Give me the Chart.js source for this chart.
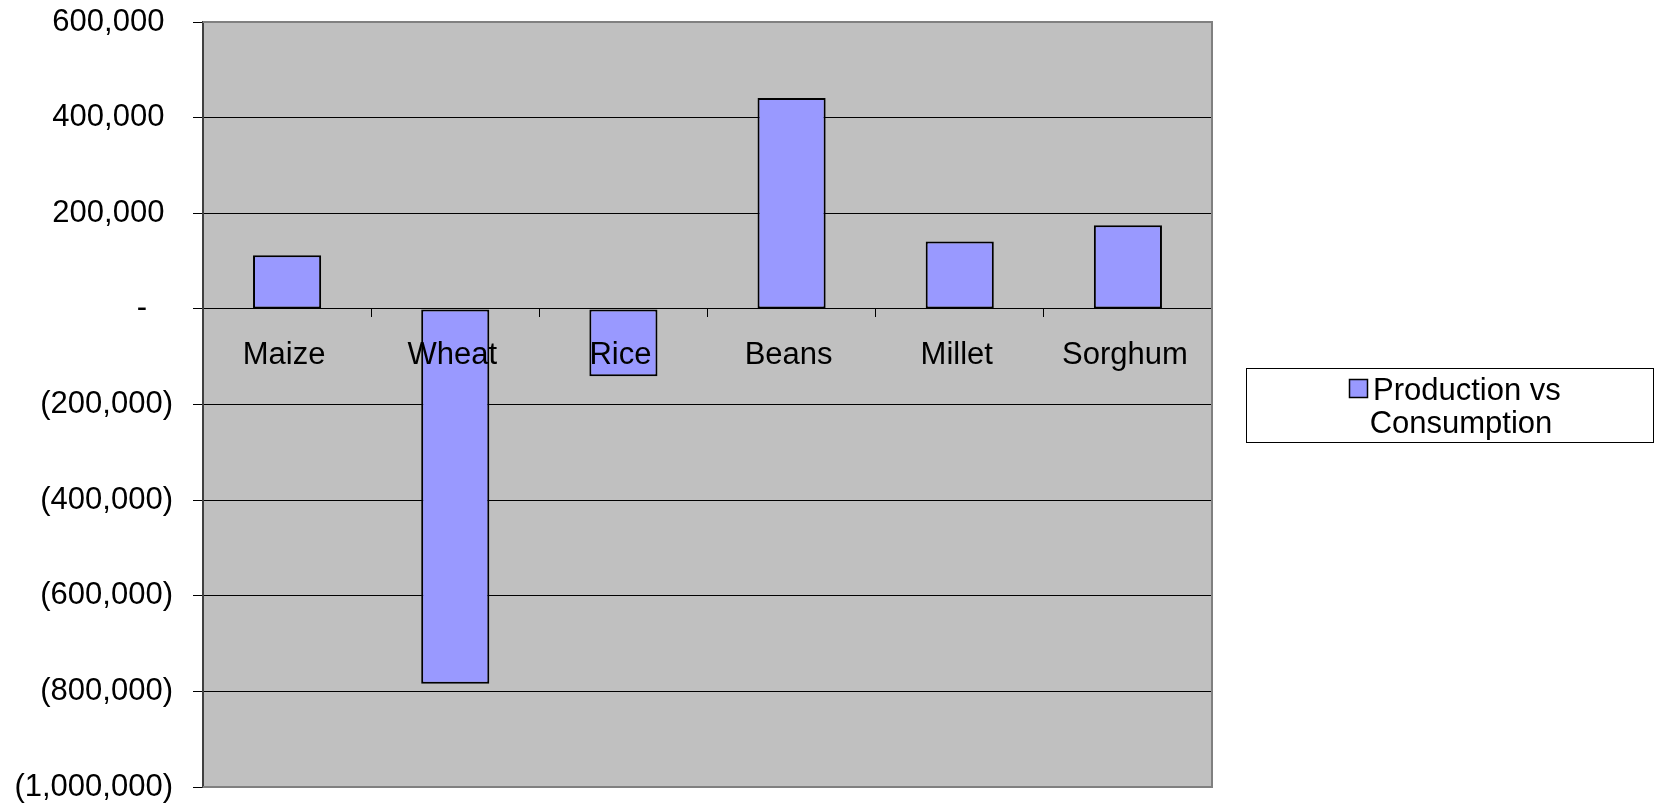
<!DOCTYPE html>
<html>
<head>
<meta charset="utf-8">
<script src="https://cdn.jsdelivr.net/npm/chart.js@4.4.1/dist/chart.umd.min.js"></script>
<style>
    html, body { margin: 0; padding: 0; background: #fff; }
    #wrap { width: 1661px; height: 805px; }
</style>
</head>
<body>
<div id="wrap"><canvas id="balanceChart"></canvas></div>
<script>
const crops = ['Maize', 'Wheat', 'Rice', 'Beans', 'Millet', 'Sorghum'];
const balance = [112000, -784000, -141000, 441000, 141000, 175000];
const seriesName = 'Production vs Consumption';

const yMin = -1000000;
const yMax = 600000;
const yStep = 200000;

const FONT = '"Liberation Sans", Arial, sans-serif';

// excel accounting style: 200,000 / (200,000) / -
function accounting(v) {
    if (v === 0) return '-   ';
    const s = String(Math.abs(v)).replace(/\B(?=(\d{3})+(?!\d))/g, ',');
    return v < 0 ? '(' + s + ')' : s + ' ';
}

const plotBackground = {
    id: 'plotBackground',
    beforeDraw(chart) {
        const { ctx, chartArea: a } = chart;
        ctx.save();
        ctx.fillStyle = '#c0c0c0';
        ctx.fillRect(a.left, a.top, a.right - a.left, a.bottom - a.top);
        ctx.restore();
    },
    afterDraw(chart) {
        const { ctx, chartArea: a } = chart;
        ctx.save();
        ctx.strokeStyle = '#808080';
        ctx.lineWidth = 2;
        ctx.beginPath();
        ctx.moveTo(a.left, a.top);
        ctx.lineTo(a.right, a.top);
        ctx.lineTo(a.right, a.bottom);
        ctx.lineTo(a.left, a.bottom);
        ctx.stroke();
        ctx.restore();
    }
};

// legend in a framed box, label wrapped on two lines
const boxLegend = {
    id: 'boxLegend',
    afterDraw(chart) {
        const ctx = chart.ctx;
        const ds = chart.data.datasets[0];
        const x = 1246, y = 368, w = 407, h = 74;
        ctx.save();
        ctx.fillStyle = '#fff';
        ctx.fillRect(x, y, w, h);
        ctx.strokeStyle = '#000';
        ctx.lineWidth = 1;
        ctx.strokeRect(x + 0.5, y + 0.5, w, h);

        ctx.fillStyle = ds.backgroundColor;
        ctx.fillRect(1349, 379, 19, 19);
        ctx.lineWidth = 1.5;
        ctx.strokeRect(1349.5, 379.5, 18, 18);

        const words = ds.label.split(' ');
        const line2 = words.pop();
        const line1 = words.join(' ');
        ctx.font = '31px ' + FONT;
        ctx.fillStyle = '#000';
        ctx.textBaseline = 'middle';
        ctx.textAlign = 'left';
        ctx.fillText(line1, 1373, 391);
        ctx.textAlign = 'center';
        ctx.fillText(line2, 1461, 424);
        ctx.restore();
    }
};

const ctx = document.getElementById('balanceChart');

new Chart(ctx, {
    type: 'bar',
    data: {
        labels: crops,
        datasets: [{
            label: seriesName,
            data: balance,
            backgroundColor: '#9999ff',
            borderColor: '#000',
            borderWidth: 2,
            borderSkipped: false,
            barPercentage: 0.405,
            categoryPercentage: 1.0,
        }]
    },
    options: {
        responsive: true,
        maintainAspectRatio: false,
        animation: false,
        layout: {
            padding: { left: 0, top: 22, right: 449, bottom: 18 }
        },
        plugins: {
            legend: { display: false },
            tooltip: { enabled: false }
        },
        scales: {
            x: {
                position: { y: 0 },
                grid: {
                    offset: true,
                    drawOnChartArea: false,
                    drawTicks: true,
                    tickLength: 8,
                    color: '#000',
                    lineWidth: 1
                },
                border: { display: true, color: '#000', width: 1 },
                ticks: {
                    z: 1,   // labels sit on top of the bars
                    color: '#000',
                    font: { family: FONT, size: 31 },
                    padding: 20,
                    labelOffset: -3,
                    maxRotation: 0,
                    autoSkip: false
                }
            },
            y: {
                position: 'left',
                min: yMin,
                max: yMax,
                afterFit: (scale) => {
                    scale.width = 203;
                    scale.paddingTop = 0;
                    scale.paddingBottom = 0;
                },
                grid: {
                    color: '#000',
                    lineWidth: 1,
                    drawTicks: true,
                    tickLength: 10
                },
                border: { display: true, color: '#404040', width: 2 },
                ticks: {
                    stepSize: yStep,
                    color: '#000',
                    padding: 20,
                    font: { family: FONT, size: 31, lineHeight: 1 },
                    callback: (value) => accounting(value)
                }
            }
        }
    },
    plugins: [plotBackground, boxLegend]
});
</script>
</body>
</html>
